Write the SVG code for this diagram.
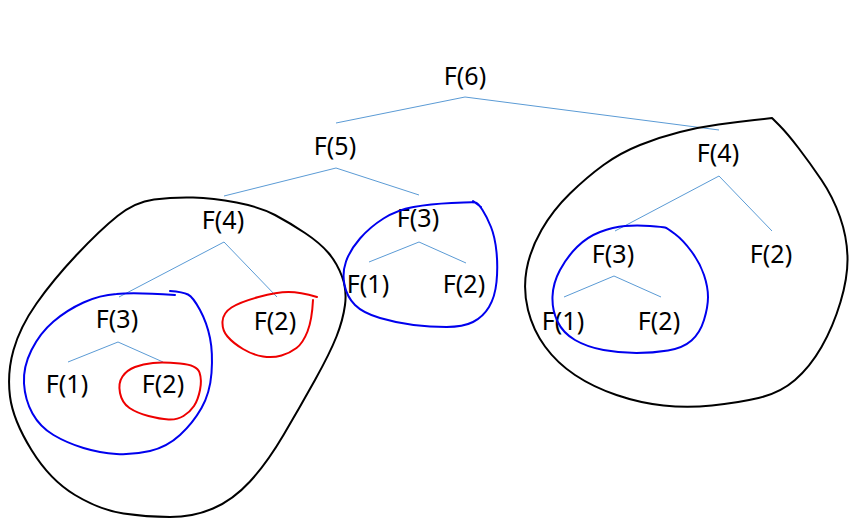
<svg xmlns="http://www.w3.org/2000/svg" width="852" height="518" viewBox="0 0 852 518">
<style>
text{font-family:"Noto Sans","Open Sans","DejaVu Sans",sans-serif;font-size:25px;fill:#000;text-anchor:middle}
.e{stroke:#5b9bd5;stroke-width:1;fill:none}
.loop{fill:none;stroke-width:2;stroke-linecap:round;stroke-linejoin:round}
.k{stroke:#000}
.b{stroke:#0000ee}
.r{stroke:#ee0000}
</style>
<rect width="852" height="518" fill="#fff"/>
<g id="connectors">
<polyline class="e" points="336,123 465,97 719,130"/>
<polyline class="e" points="224,196 336,168 419,195"/>
<polyline class="e" points="119,297 224,242 277,297"/>
<polyline class="e" points="68,362 118,342 163,362"/>
<polyline class="e" points="369,262 419,242 466,263"/>
<polyline class="e" points="615,231 719,176 772,231"/>
<polyline class="e" points="564,297 614,276 661,297"/>
</g>
<g id="n-f6"><text x="465" y="85">F(6)</text></g>
<g id="n-f5"><text x="335" y="155">F(5)</text></g>
<g id="n-f4r"><text x="718" y="162">F(4)</text></g>
<g id="n-f4l"><text x="223" y="229">F(4)</text></g>
<g id="n-f3l"><text x="117" y="328">F(3)</text></g>
<g id="n-f2lm"><text x="275" y="330">F(2)</text></g>
<g id="n-f1l"><text x="67" y="393">F(1)</text></g>
<g id="n-f2lb"><text x="163" y="393">F(2)</text></g>
<g id="n-f3m"><text x="418" y="227">F(3)</text></g>
<g id="n-f1m"><text x="368" y="293">F(1)</text></g>
<g id="n-f2m"><text x="464" y="293">F(2)</text></g>
<g id="n-f3r"><text x="613" y="263">F(3)</text></g>
<g id="n-f2r"><text x="771" y="263">F(2)</text></g>
<g id="n-f1r"><text x="563" y="330">F(1)</text></g>
<g id="n-f2rb"><text x="659" y="330">F(2)</text></g>
<g id="loops">
<path class="loop k" d="M154,199.5 Q173,197 193,197.5 Q213,198 236.5,202.5 Q260,207 275,215 Q290,223 305,233 Q320,243 328.5,253 Q337,263 342,276.5 Q347,290 345,305 Q343,320 336.5,336.5 Q330,353 315,380 Q300,407 283.5,435 Q267,463 250,481.5 Q233,500 213,508.5 Q193,517 170,517 Q147,517 123.5,513.5 Q100,510 75,495 Q50,480 31.5,450 Q13,420 10,396.5 Q7,373 13.5,350 Q20,327 36.5,303.5 Q53,280 76.5,255 Q100,230 117.5,216 Q135,202 154,199.5 Z"/>
<path class="loop b" d="M175,295 Q133,292 116.5,294 Q100,295 83.5,302.5 Q67,310 53.5,321.5 Q40,333 31.5,350 Q23,367 24,383.5 Q25,400 32.5,413.5 Q40,427 53.5,435 Q67,443 83.5,448 Q100,453 116.5,454 Q133,455 150,451 Q167,447 180,435 Q193,423 201.5,408 Q210,393 211.5,373 Q213,353 210,338 Q207,323 200,310 Q193,297 188,294.5 Q183,292 170,291"/>
<path class="loop r" d="M180,363.5 Q197,365 199.5,372.5 Q202,380 200,390 Q198,400 194,406 Q190,412 183.5,416 Q177,420 168.5,419.5 Q160,419 148.5,416 Q137,413 129.5,408 Q122,403 120,393 Q118,383 122.5,376.5 Q127,370 135,367 Q143,364 153,363 Q163,362 180,363.5 Z"/>
<path class="loop r" d="M317,297 Q300,292 288.5,292 Q277,292 258.5,297 Q240,302 231.5,307.5 Q223,313 222.5,321.5 Q222,330 227.5,336.5 Q233,343 243,349 Q253,355 263,356.5 Q273,358 281.5,355.5 Q290,353 296.5,348 Q303,343 307.5,331.5 Q312,320 313,300"/>
<path class="loop b" d="M451.5,203 Q430,204 413.5,207 Q397,210 383.5,218.5 Q370,227 360,238.5 Q350,250 346,261.5 Q342,273 344.5,285 Q347,297 355,305 Q363,313 380,318 Q397,323 413.5,325 Q430,327 446.5,327 Q463,327 473,322 Q483,317 489,307 Q495,297 496.5,282 Q498,267 496.5,252 Q495,237 491,227 Q487,217 482.5,210 Q478,203 475.5,202.5 Q473,202 451.5,203 Z M473,201 L481,207"/>
<path class="loop k" d="M772,118 L754.5,120 Q737,122 718.5,124.5 Q700,127 680,132 Q660,137 640,145 Q620,153 603.5,165 Q587,177 570,193.5 Q553,210 541.5,230 Q530,250 526.5,270 Q523,290 528,310 Q533,330 545,346.5 Q557,363 575,375 Q593,387 616.5,395 Q640,403 663.5,405.5 Q687,408 712,405.5 Q737,403 758.5,398 Q780,393 795,380 Q810,367 821.5,347 Q833,327 840.5,302 Q848,277 847.5,257 Q847,237 840,217 Q833,197 821.5,180 Q810,163 798.5,148 Q787,133 779.5,125.5 L772,118 Z"/>
<path class="loop b" d="M650,226 Q637,225 625,226 Q613,227 600,232 Q587,237 577,247 Q567,257 560,270 Q553,283 552.5,296.5 Q552,310 557.5,321.5 Q563,333 575,340 Q587,347 603.5,350 Q620,353 636.5,353 Q653,353 668,350.5 Q683,348 691.5,340.5 Q700,333 704,320 Q708,307 708,297 Q708,287 704,275 Q700,263 691.5,251.5 Q683,240 675,234 Q667,228 665,227.5 Q663,227 650,226 Z"/>
</g>
</svg>
